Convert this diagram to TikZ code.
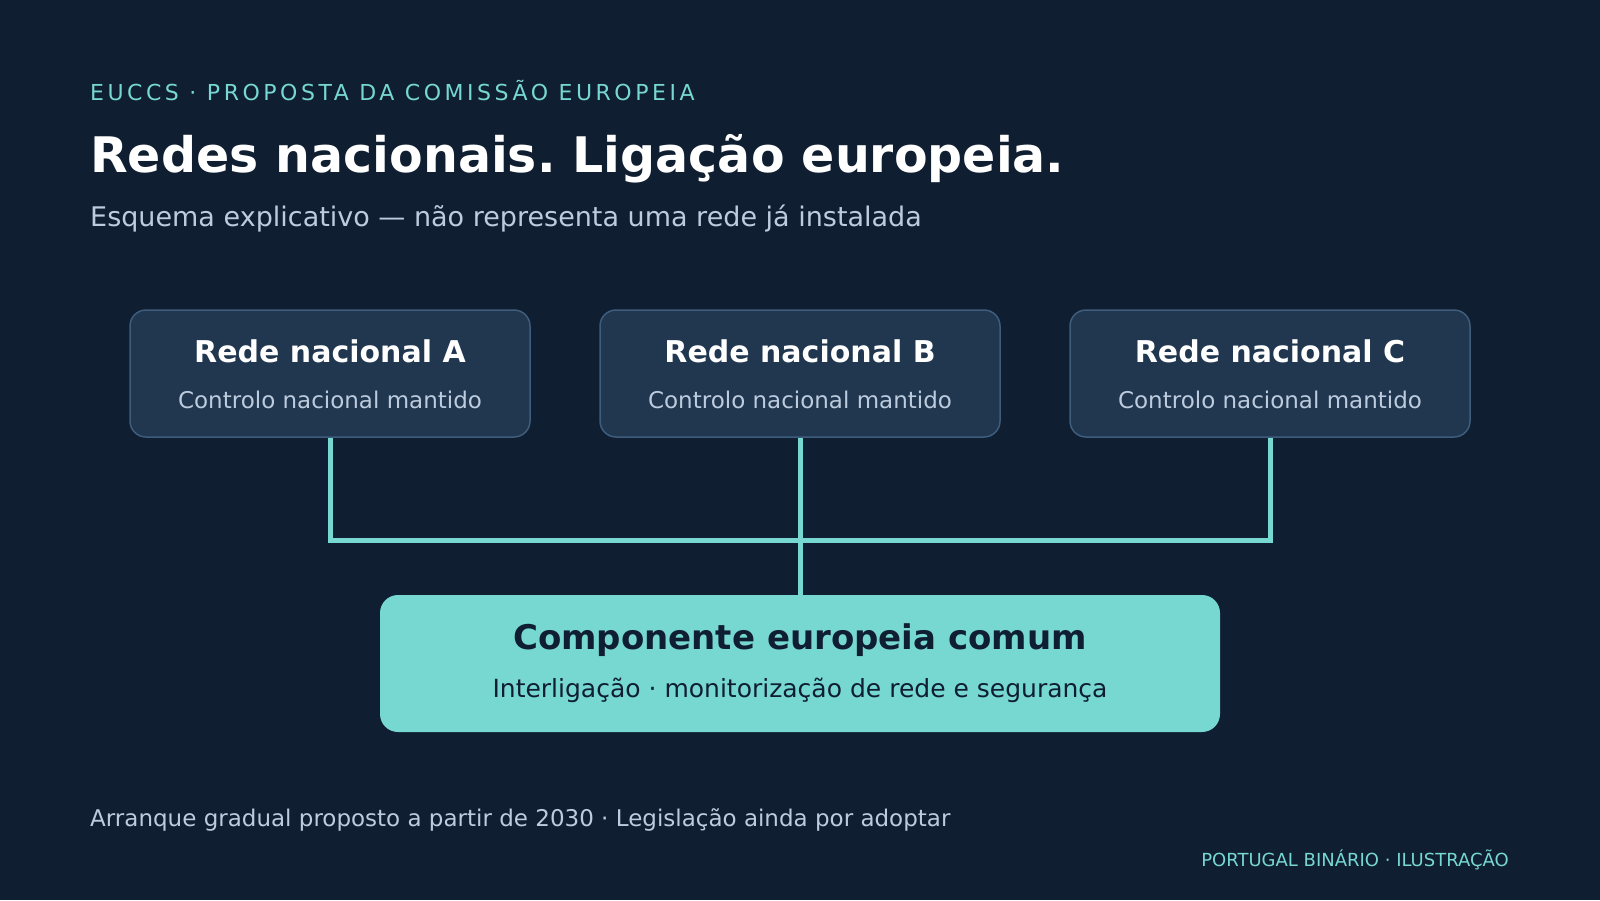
\documentclass[tikz,border=0pt]{standalone}
\usepackage{fontspec}
\setmainfont{DejaVu Sans}
\newfontfamily\spacedfont[LetterSpace=16]{DejaVu Sans}
\usepackage{xcolor}
\usepackage{tikz}
\usetikzlibrary{positioning}
\frenchspacing

\definecolor{bgnavy}{HTML}{0F1E31}
\definecolor{boxfill}{HTML}{20374F}
\definecolor{boxline}{HTML}{3E5C7B}
\definecolor{teal}{HTML}{76D8D0}
\definecolor{softtext}{HTML}{BCCBDD}

\begin{document}
\begin{tikzpicture}
            [x=1pt,y=-1pt,
             netbox/.style={draw=boxline, line width=1.5pt, fill=boxfill, rounded corners=16pt,
                            minimum width=400pt, minimum height=127pt, inner sep=0pt},
             eubox/.style={fill=teal, rounded corners=18pt,
                           minimum width=840pt, minimum height=137pt, inner sep=0pt},
             boxtitle/.style={anchor=base, inner sep=0pt, text=white, font=\fontsize{30}{35}\selectfont\bfseries},
             boxsub/.style={anchor=base, inner sep=0pt, text=softtext, font=\fontsize{23}{27}\selectfont},
             link/.style={draw=teal, line width=5pt}]
            % background and margins
            \fill[bgnavy] (0,0) rectangle (1600,900);
            \useasboundingbox (0,0) rectangle (1600,900);

            % heading
            \node[anchor=base west, inner sep=0pt, text=teal, font=\fontsize{22}{26}\spacedfont] (kicker) at (90,100) {EUCCS · PROPOSTA DA COMISSÃO EUROPEIA};
            \node[anchor=base west, inner sep=0pt, text=white, font=\fontsize{49}{57}\selectfont\bfseries] (title) at (90,172) {Redes nacionais. Ligação europeia.};
            \node[anchor=base west, inner sep=0pt, text=softtext, font=\fontsize{27}{31}\selectfont] (lede) at (90,226) {Esquema explicativo — não representa uma rede já instalada};

            % national networks
            \foreach \id/\cx in {A/330, B/800, C/1270}
            {
              \node[netbox] (net\id) at (\cx,373.5) {};
              \node[boxtitle] (tit\id) at (\cx,362) {Rede nacional \id};
              \node[boxsub] (sub\id) at (\cx,408) {Controlo nacional mantido};
            }

            % common european component
            \node[eubox] (euro) at (800,663.5) {};
            \node[anchor=base, inner sep=0pt, text=bgnavy, font=\fontsize{34}{40}\selectfont\bfseries] (eutitle) at (800,649) {Componente europeia comum};
            \node[anchor=base, inner sep=0pt, text=bgnavy, font=\fontsize{25}{29}\selectfont] (eusub) at (800,697) {Interligação · monitorização de rede e segurança};

            % connectors
            \coordinate (junc) at (800,540);
            \draw[link] (netA.south) |- (junc) -| (netC.south);
            \draw[link] (netB.south) -- (euro.north);

            % footer
            \node[anchor=base west, inner sep=0pt, text=softtext, font=\fontsize{23}{27}\selectfont] (note) at (90,826) {Arranque gradual proposto a partir de 2030 · Legislação ainda por adoptar};
            \node[anchor=base east, inner sep=0pt, text=teal, font=\fontsize{18}{22}\selectfont] (credit) at (1509,866) {PORTUGAL BINÁRIO · ILUSTRAÇÃO};
          \end{tikzpicture}
\end{document}
